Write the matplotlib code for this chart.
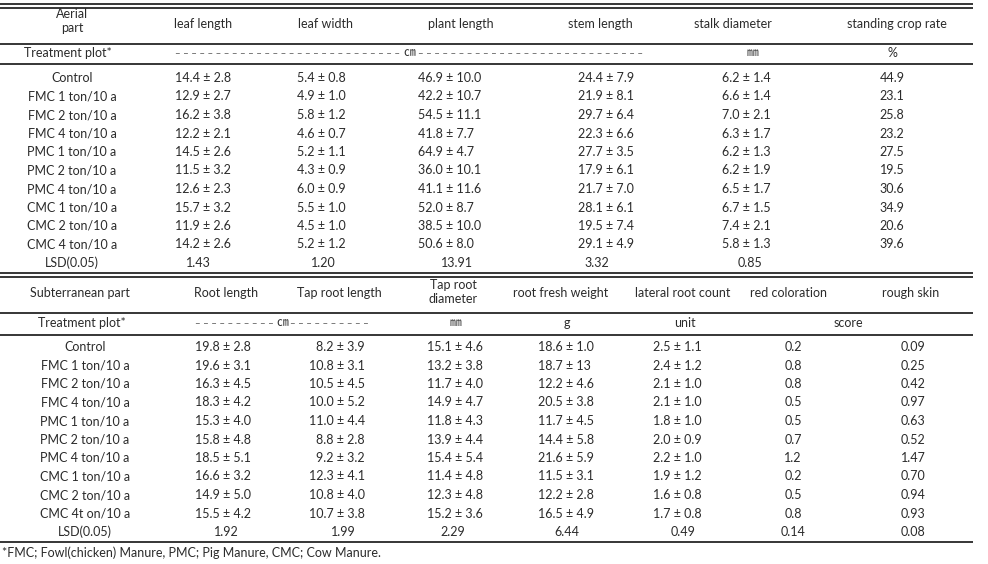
import matplotlib.pyplot as plt

plt.rcParams['font.family'] = ['Lato', 'DejaVu Sans']

treatments = ['Control', 'FMC 1 ton/10 a', 'FMC 2 ton/10 a', 'FMC 4 ton/10 a',
              'PMC 1 ton/10 a', 'PMC 2 ton/10 a', 'PMC 4 ton/10 a',
              'CMC 1 ton/10 a', 'CMC 2 ton/10 a', 'CMC 4 ton/10 a', 'LSD(0.05)']
treatments2 = ['Control', 'FMC 1 ton/10 a', 'FMC 2 ton/10 a', 'FMC 4 ton/10 a',
               'PMC 1 ton/10 a', 'PMC 2 ton/10 a', 'PMC 4 ton/10 a',
               'CMC 1 ton/10 a', 'CMC 2 ton/10 a', 'CMC 4t on/10 a', 'LSD(0.05)']

# aerial part
leaf_length = ['14.4 ± 2.8', '12.9 ± 2.7', '16.2 ± 3.8', '12.2 ± 2.1', '14.5 ± 2.6', '11.5 ± 3.2',
               '12.6 ± 2.3', '15.7 ± 3.2', '11.9 ± 2.6', '14.2 ± 2.6', '1.43']
leaf_width = ['5.4 ± 0.8', '4.9 ± 1.0', '5.8 ± 1.2', '4.6 ± 0.7', '5.2 ± 1.1', '4.3 ± 0.9',
              '6.0 ± 0.9', '5.5 ± 1.0', '4.5 ± 1.0', '5.2 ± 1.2', '1.20']
plant_length = ['46.9 ± 10.0', '42.2 ± 10.7', '54.5 ± 11.1', '41.8 ± 7.7', '64.9 ± 4.7', '36.0 ± 10.1',
                '41.1 ± 11.6', '52.0 ± 8.7', '38.5 ± 10.0', '50.6 ± 8.0', '13.91']
stem_length = ['24.4 ± 7.9', '21.9 ± 8.1', '29.7 ± 6.4', '22.3 ± 6.6', '27.7 ± 3.5', '17.9 ± 6.1',
               '21.7 ± 7.0', '28.1 ± 6.1', '19.5 ± 7.4', '29.1 ± 4.9', '3.32']
stalk_diameter = ['6.2 ± 1.4', '6.6 ± 1.4', '7.0 ± 2.1', '6.3 ± 1.7', '6.2 ± 1.3', '6.2 ± 1.9',
                  '6.5 ± 1.7', '6.7 ± 1.5', '7.4 ± 2.1', '5.8 ± 1.3', '0.85']
standing_rate = ['44.9', '23.1', '25.8', '23.2', '27.5', '19.5', '30.6', '34.9', '20.6', '39.6', '']

# subterranean part
root_length = ['19.8 ± 2.8', '19.6 ± 3.1', '16.3 ± 4.5', '18.3 ± 4.2', '15.3 ± 4.0', '15.8 ± 4.8',
               '18.5 ± 5.1', '16.6 ± 3.2', '14.9 ± 5.0', '15.5 ± 4.2', '1.92']
tap_length = ['8.2 ± 3.9', '10.8 ± 3.1', '10.5 ± 4.5', '10.0 ± 5.2', '11.0 ± 4.4', '8.8 ± 2.8',
              '9.2 ± 3.2', '12.3 ± 4.1', '10.8 ± 4.0', '10.7 ± 3.8', '1.99']
tap_diameter = ['15.1 ± 4.6', '13.2 ± 3.8', '11.7 ± 4.0', '14.9 ± 4.7', '11.8 ± 4.3', '13.9 ± 4.4',
                '15.4 ± 5.4', '11.4 ± 4.8', '12.3 ± 4.8', '15.2 ± 3.6', '2.29']
fresh_weight = ['18.6 ± 1.0', '18.7 ± 13', '12.2 ± 4.6', '20.5 ± 3.8', '11.7 ± 4.5', '14.4 ± 5.8',
                '21.6 ± 5.9', '11.5 ± 3.1', '12.2 ± 2.8', '16.5 ± 4.9', '6.44']
lateral_count = ['2.5 ± 1.1', '2.4 ± 1.2', '2.1 ± 1.0', '2.1 ± 1.0', '1.8 ± 1.0', '2.0 ± 0.9',
                 '2.2 ± 1.0', '1.9 ± 1.2', '1.6 ± 0.8', '1.7 ± 0.8', '0.49']
red_coloration = ['0.2', '0.8', '0.8', '0.5', '0.5', '0.7', '1.2', '0.2', '0.5', '0.8', '0.14']
rough_skin = ['0.09', '0.25', '0.42', '0.97', '0.63', '0.52', '1.47', '0.70', '0.94', '0.93', '0.08']

txt = '#2b2b2b'
fs = 9
unit_font = ['Noto Sans CJK KR', 'DejaVu Sans']

fig = plt.figure(figsize=(9.88, 5.64), dpi=100)
ax = fig.add_axes([0, 0, 1, 1])
ax.set_xlim(0, 988)
ax.set_ylim(564, 0)
ax.axis('off')


def hline(y):
    ax.plot([0, 973], [y, y], color='black', lw=1.1, solid_capstyle='butt')


def t(x, y, s, ha='center', size=fs, **kw):
    ax.text(x, y, s, ha=ha, va='center', fontsize=size, color=txt, **kw)


def column(x, y0, vals, ha, lsd_x=None):
    for i, v in enumerate(vals):
        y = y0 + i * 18.5
        if i == len(vals) - 1:
            t(lsd_x if lsd_x is not None else x, y, v, ha='center')
        else:
            t(x, y, v, ha=ha)


def dashes(x, y, n, ha):
    ax.text(x, y, ' '.join(['–'] * n), ha=ha, va='center', fontsize=7, color='#555555')


# ---- aerial part ----
hline(4)
hline(7.5)
t(72, 21, 'Aerial\npart', linespacing=1.3)
t(203, 24, 'leaf length')
t(325, 24, 'leaf width')
t(461, 24, 'plant length')
t(600, 24, 'stem length')
t(733, 24, 'stalk diameter')
t(897, 24, 'standing crop rate')
hline(43.5)
t(68, 53, 'Treatment plot*')
dashes(400, 54, 28, 'right')
t(409, 53, '㎝', family=unit_font, size=8.5)
dashes(418, 54, 28, 'left')
t(752, 53, '㎜', family=unit_font, size=8.5)
t(892, 53, '%')
hline(64)

y1 = 78
for i, name in enumerate(treatments):
    t(72, y1 + i * 18.5, name)
column(175, y1, leaf_length, 'left', 198)
column(297, y1, leaf_width, 'left', 323)
column(418, y1, plant_length, 'left', 457)
column(578, y1, stem_length, 'left', 597)
column(722, y1, stalk_diameter, 'left', 750)
column(892, y1, standing_rate, 'center')

# ---- subterranean part ----
hline(273)
hline(276.5)
t(80, 293, 'Subterranean part')
t(226, 293, 'Root length')
t(339, 293, 'Tap root length')
t(453, 292, 'Tap root\ndiameter', linespacing=1.2)
t(561, 293, 'root fresh weight')
t(683, 293, 'lateral root count')
t(788, 293, 'red coloration')
t(911, 293, 'rough skin')
hline(313)
t(82, 323, 'Treatment plot*')
dashes(274, 324, 10, 'right')
t(282, 323, '㎝', family=unit_font, size=8.5)
dashes(290, 324, 10, 'left')
t(455, 323, '㎜', family=unit_font, size=8.5)
t(567, 323, 'g')
t(685, 323, 'unit')
t(848, 323, 'score')
hline(335)

y2 = 347
for i, name in enumerate(treatments2):
    t(85, y2 + i * 18.5, name)
column(195, y2, root_length, 'left', 226)
column(365, y2, tap_length, 'right', 343)
column(483, y2, tap_diameter, 'right', 453)
column(538, y2, fresh_weight, 'left', 567)
column(653, y2, lateral_count, 'left', 683)
column(793, y2, red_coloration, 'center')
column(913, y2, rough_skin, 'center')
hline(542)

t(2, 553, '*FMC; Fowl(chicken) Manure, PMC; Pig Manure, CMC; Cow Manure.', ha='left', size=9)

fig.savefig('out.png', dpi=100)
